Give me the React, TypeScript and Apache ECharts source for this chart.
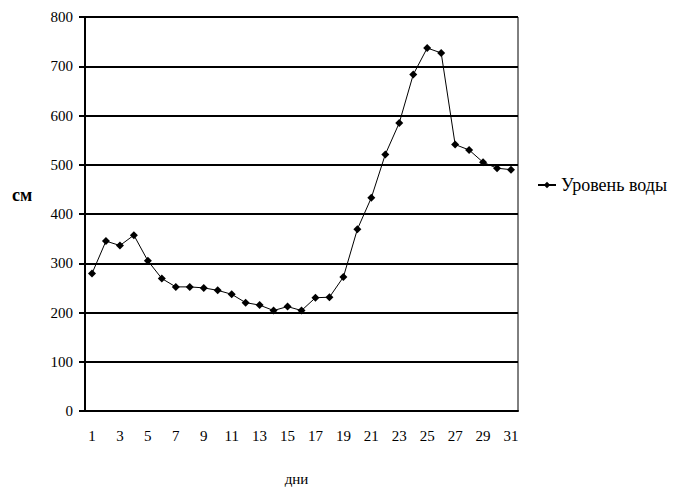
import React, { useEffect, useRef } from "react";
import * as echarts from "echarts";

const days = Array.from({ length: 31 }, (_, i) => String(i + 1));
const waterLevel = [
  279, 345, 336, 357, 305, 269, 252, 252, 250, 245, 237, 220, 215, 204, 212,
  204, 230, 231, 272, 369, 433, 521, 585, 683, 737, 727, 541, 530, 505, 493, 490,
];
const seriesName = "Уровень воды";
const yName = "см";
const xName = "дни";

const FONT = "'Liberation Serif', 'Times New Roman', serif";

export default function App() {
  const ref = useRef<HTMLDivElement>(null);
  useEffect(() => {
    if (!ref.current) return;
    const chart = echarts.init(ref.current, undefined, { renderer: "svg" });
    chart.setOption({
      animation: false,
      backgroundColor: "#ffffff",
      textStyle: { fontFamily: FONT, color: "#000" },
      grid: {
        left: 85,
        right: 161,
        top: 17,
        bottom: 77,
        show: true,
        borderColor: "#000",
        borderWidth: 1,
      },
      legend: {
        left: 537,
        top: 176,
        padding: 0,
        itemWidth: 18,
        itemHeight: 8,
        itemGap: 6,
        textStyle: { fontFamily: FONT, fontSize: 18, color: "#000" },
        data: [seriesName],
      },
      graphic: [
        {
          type: "text",
          left: 12,
          top: 186,
          style: {
            text: yName,
            font: `bold 18px ${FONT}`,
            fill: "#000",
          },
        },
      ],
      xAxis: {
        type: "category",
        data: days,
        boundaryGap: true,
        name: xName,
        nameLocation: "middle",
        nameGap: 60,
        nameTextStyle: { fontFamily: FONT, fontSize: 15, color: "#000", padding: [0, 10, 0, 0] },
        axisLine: { lineStyle: { color: "#000", width: 2 } },
        axisTick: {
          interval: 0,
          length: 5,
          lineStyle: { color: "#000", width: 2 },
        },
        axisLabel: {
          interval: 1,
          margin: 17,
          fontFamily: FONT,
          fontSize: 15,
          color: "#000",
        },
        splitLine: { show: false },
      },
      yAxis: {
        type: "value",
        min: 0,
        max: 800,
        interval: 100,
        axisLine: { show: true, lineStyle: { color: "#000", width: 2 } },
        axisTick: { show: true, length: 6, lineStyle: { color: "#000", width: 2 } },
        axisLabel: {
          margin: 12,
          fontFamily: FONT,
          fontSize: 15,
          color: "#000",
        },
        splitLine: { show: true, lineStyle: { color: "#000", width: 2 } },
      },
      series: [
        {
          name: seriesName,
          type: "line",
          data: waterLevel,
          symbol: "diamond",
          symbolSize: 8,
          itemStyle: { color: "#000" },
          lineStyle: { color: "#000", width: 1 },
        },
      ],
    });
    return () => chart.dispose();
  }, []);
  return <div ref={ref} style={{ width: 679, height: 491, position: "absolute", left: 0, top: 0 }} />;
}
